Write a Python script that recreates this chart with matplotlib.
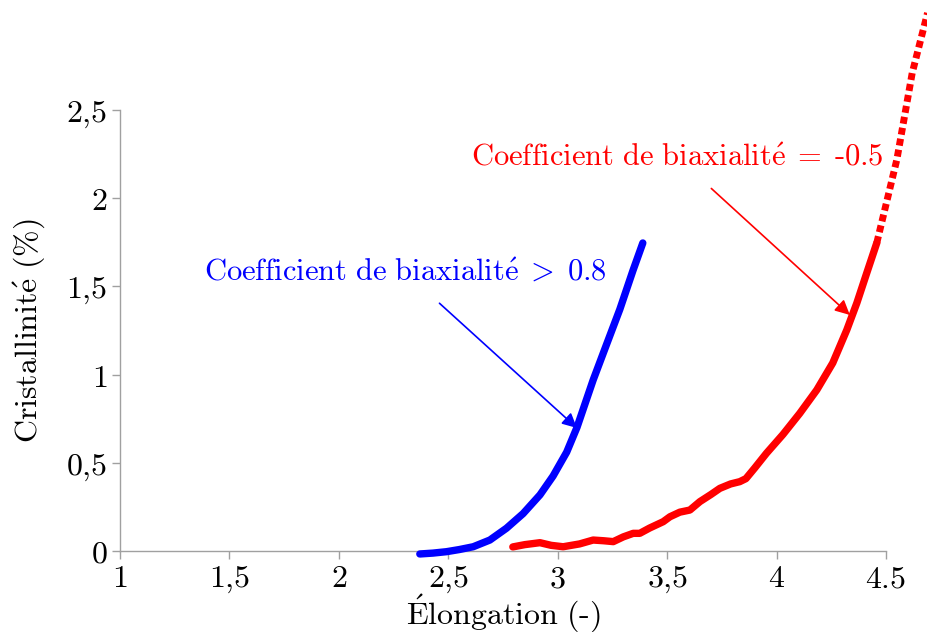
import matplotlib
matplotlib.use("Agg")
import matplotlib.pyplot as plt

plt.rcParams['mathtext.fontset'] = 'cm'
plt.rcParams['font.family'] = ['DejaVu Serif']

# Data
blue_x = [2.370, 2.430, 2.492, 2.550, 2.614, 2.690, 2.766, 2.842, 2.919, 2.979, 3.041, 3.088,
          3.132, 3.162, 3.223, 3.284, 3.344, 3.389]
blue_y = [-0.017, -0.012, -0.004, 0.008, 0.024, 0.062, 0.129, 0.212, 0.318, 0.425, 0.560, 0.700,
          0.860, 0.969, 1.170, 1.370, 1.590, 1.746]

red_x = [2.795, 2.850, 2.919, 2.970, 3.025, 3.100, 3.162, 3.210, 3.254, 3.300, 3.345, 3.375, 3.420,
         3.482, 3.513, 3.558, 3.604, 3.650, 3.700, 3.741, 3.790, 3.832, 3.860, 3.900, 3.954, 4.029,
         4.106, 4.184, 4.257, 4.321, 4.367, 4.412, 4.458]
red_y = [0.023, 0.036, 0.047, 0.032, 0.024, 0.040, 0.062, 0.058, 0.053, 0.080, 0.100, 0.100, 0.130,
         0.166, 0.194, 0.220, 0.232, 0.280, 0.320, 0.355, 0.380, 0.393, 0.410, 0.470, 0.554, 0.660,
         0.780, 0.913, 1.066, 1.253, 1.406, 1.575, 1.746]

red_ext_x = [4.458, 4.550, 4.620, 4.690]
red_ext_y = [1.746, 2.220, 2.710, 3.050]

xticks = [1, 1.5, 2, 2.5, 3, 3.5, 4, 4.5]
xticklabels = ["1", "1,5", "2", "2,5", "3", "3,5", "4", "4.5"]
yticks = [0, 0.5, 1, 1.5, 2, 2.5]
yticklabels = ["0", "0,5", "1", "1,5", "2", "2,5"]


def mt(s):
    return "$" + s.replace(",", "{,}") + "$"


FS = 23
FA = 22
fig = plt.figure(figsize=(9.28, 6.32), dpi=100)
ax = fig.add_axes([0.1293, 0.1282, 0.9547 - 0.1293, 0.826 - 0.1282])

ax.plot(blue_x, blue_y, color='#0000ff', lw=5.3, solid_capstyle='round', solid_joinstyle='round',
        clip_on=False, zorder=3)
ax.plot(red_x, red_y, color='#ff0000', lw=5.3, solid_capstyle='round', solid_joinstyle='round',
        clip_on=False, zorder=3)
ax.plot(red_ext_x, red_ext_y, color='#ff0000', lw=5.0, linestyle=(0, (1.0, 0.6)), dash_capstyle='butt',
        clip_on=False, zorder=3)

ax.set_xlim(1, 4.5)
ax.set_ylim(0, 2.5)
ax.set_xticks(xticks)
ax.set_xticklabels([mt(t) for t in xticklabels])
ax.set_yticks(yticks)
ax.set_yticklabels([mt(t) for t in yticklabels])

for s in ['top', 'right']:
    ax.spines[s].set_visible(False)
for s in ['left', 'bottom']:
    ax.spines[s].set_color('#a0a0a0')
    ax.spines[s].set_linewidth(1.0)
ax.tick_params(axis='both', colors='#a0a0a0', labelcolor='black', labelsize=FS, length=6, width=1.0, pad=3)

ax.set_xlabel(r"$\mathrm{\acute{E}longation\ (\text{-})}$", fontsize=FS)
ax.xaxis.set_label_coords(0.5, -0.094)
ax.set_ylabel(r"$\mathrm{Cristallinit\acute{e}\ (\%)}$", fontsize=FS, labelpad=14)

ax.annotate(r"$\mathrm{Coefficient\ de\ biaxialit\acute{e}}\;>\;0.8$",
            xy=(3.088, 0.697), xytext=(2.302, 1.582), color='#0000ff', fontsize=FA,
            ha='center', va='center',
            arrowprops=dict(arrowstyle='-|>', color='#0000ff', lw=1.2, mutation_scale=22,
                            shrinkA=14, shrinkB=0))

ax.annotate(r"$\mathrm{Coefficient\ de\ biaxialit\acute{e}}\;=\;\text{-}0.5$",
            xy=(4.335, 1.338), xytext=(3.545, 2.233), color='#ff0000', fontsize=FA,
            ha='center', va='center', annotation_clip=False,
            arrowprops=dict(arrowstyle='-|>', color='#ff0000', lw=1.2, mutation_scale=22,
                            shrinkA=14, shrinkB=0))

fig.savefig("out.png", dpi=100)
